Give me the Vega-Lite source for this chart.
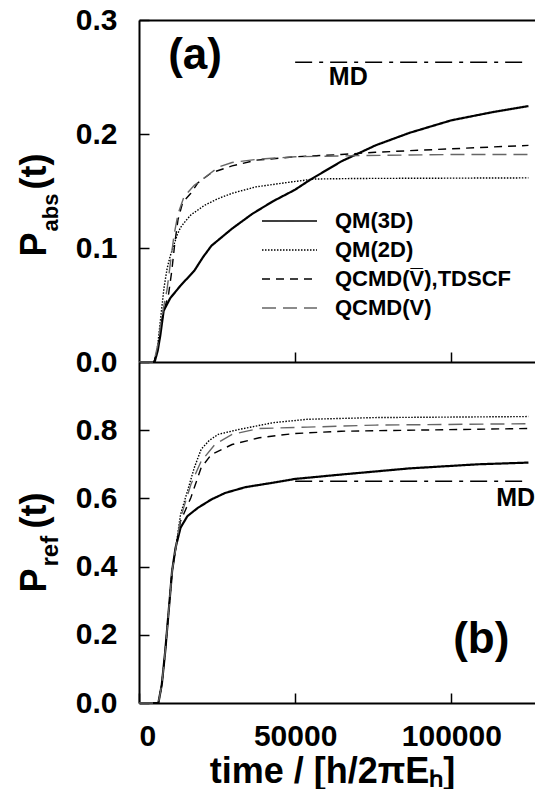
{
  "$schema": "https://vega.github.io/schema/vega-lite/v6.json",
  "padding": {"left": 16, "top": 5, "right": 0, "bottom": 0},
  "bounds": "flush",
  "spacing": 0,
  "datasets": {
    "top": [
      {"series": "QM(3D)", "t": 0, "p": 0}, {"series": "QM(3D)", "t": 5000, "p": 0}, {"series": "QM(3D)", "t": 6000, "p": 0.01}, {"series": "QM(3D)", "t": 6800, "p": 0.023}, {"series": "QM(3D)", "t": 7900, "p": 0.045}, {"series": "QM(3D)", "t": 10000, "p": 0.056}, {"series": "QM(3D)", "t": 13300, "p": 0.067}, {"series": "QM(3D)", "t": 17700, "p": 0.08}, {"series": "QM(3D)", "t": 20500, "p": 0.092}, {"series": "QM(3D)", "t": 23200, "p": 0.102}, {"series": "QM(3D)", "t": 29800, "p": 0.117}, {"series": "QM(3D)", "t": 36300, "p": 0.13}, {"series": "QM(3D)", "t": 42900, "p": 0.141}, {"series": "QM(3D)", "t": 49900, "p": 0.151}, {"series": "QM(3D)", "t": 54900, "p": 0.16}, {"series": "QM(3D)", "t": 64800, "p": 0.176}, {"series": "QM(3D)", "t": 75700, "p": 0.19}, {"series": "QM(3D)", "t": 86600, "p": 0.201}, {"series": "QM(3D)", "t": 100000, "p": 0.212}, {"series": "QM(3D)", "t": 112900, "p": 0.219}, {"series": "QM(3D)", "t": 124700, "p": 0.2245},
      {"series": "QM(2D)", "t": 0, "p": 0}, {"series": "QM(2D)", "t": 4800, "p": 0}, {"series": "QM(2D)", "t": 5800, "p": 0.01}, {"series": "QM(2D)", "t": 7000, "p": 0.04}, {"series": "QM(2D)", "t": 8000, "p": 0.065}, {"series": "QM(2D)", "t": 9000, "p": 0.082}, {"series": "QM(2D)", "t": 10000, "p": 0.093}, {"series": "QM(2D)", "t": 11200, "p": 0.103}, {"series": "QM(2D)", "t": 12300, "p": 0.112}, {"series": "QM(2D)", "t": 13300, "p": 0.118}, {"series": "QM(2D)", "t": 15000, "p": 0.124}, {"series": "QM(2D)", "t": 16600, "p": 0.129}, {"series": "QM(2D)", "t": 21000, "p": 0.1375}, {"series": "QM(2D)", "t": 25400, "p": 0.1434}, {"series": "QM(2D)", "t": 29800, "p": 0.148}, {"series": "QM(2D)", "t": 37400, "p": 0.1536}, {"series": "QM(2D)", "t": 46200, "p": 0.157}, {"series": "QM(2D)", "t": 56000, "p": 0.1605}, {"series": "QM(2D)", "t": 70000, "p": 0.161}, {"series": "QM(2D)", "t": 124700, "p": 0.1615},
      {"series": "QCMD(V̅),TDSCF", "t": 0, "p": 0}, {"series": "QCMD(V̅),TDSCF", "t": 4800, "p": 0}, {"series": "QCMD(V̅),TDSCF", "t": 6000, "p": 0.012}, {"series": "QCMD(V̅),TDSCF", "t": 6800, "p": 0.029}, {"series": "QCMD(V̅),TDSCF", "t": 8000, "p": 0.045}, {"series": "QCMD(V̅),TDSCF", "t": 9500, "p": 0.06}, {"series": "QCMD(V̅),TDSCF", "t": 10500, "p": 0.08}, {"series": "QCMD(V̅),TDSCF", "t": 11500, "p": 0.105}, {"series": "QCMD(V̅),TDSCF", "t": 12500, "p": 0.125}, {"series": "QCMD(V̅),TDSCF", "t": 14000, "p": 0.14}, {"series": "QCMD(V̅),TDSCF", "t": 16600, "p": 0.148}, {"series": "QCMD(V̅),TDSCF", "t": 18800, "p": 0.157}, {"series": "QCMD(V̅),TDSCF", "t": 23200, "p": 0.166}, {"series": "QCMD(V̅),TDSCF", "t": 29800, "p": 0.172}, {"series": "QCMD(V̅),TDSCF", "t": 37400, "p": 0.177}, {"series": "QCMD(V̅),TDSCF", "t": 49900, "p": 0.18}, {"series": "QCMD(V̅),TDSCF", "t": 64800, "p": 0.182}, {"series": "QCMD(V̅),TDSCF", "t": 75700, "p": 0.184}, {"series": "QCMD(V̅),TDSCF", "t": 100000, "p": 0.187}, {"series": "QCMD(V̅),TDSCF", "t": 124700, "p": 0.19},
      {"series": "QCMD(V)", "t": 0, "p": 0}, {"series": "QCMD(V)", "t": 4800, "p": 0}, {"series": "QCMD(V)", "t": 6000, "p": 0.015}, {"series": "QCMD(V)", "t": 7000, "p": 0.035}, {"series": "QCMD(V)", "t": 9000, "p": 0.064}, {"series": "QCMD(V)", "t": 10200, "p": 0.09}, {"series": "QCMD(V)", "t": 11200, "p": 0.111}, {"series": "QCMD(V)", "t": 12500, "p": 0.13}, {"series": "QCMD(V)", "t": 14400, "p": 0.145}, {"series": "QCMD(V)", "t": 17700, "p": 0.155}, {"series": "QCMD(V)", "t": 22100, "p": 0.164}, {"series": "QCMD(V)", "t": 25500, "p": 0.171}, {"series": "QCMD(V)", "t": 29800, "p": 0.175}, {"series": "QCMD(V)", "t": 38500, "p": 0.178}, {"series": "QCMD(V)", "t": 50000, "p": 0.18}, {"series": "QCMD(V)", "t": 70000, "p": 0.181}, {"series": "QCMD(V)", "t": 100000, "p": 0.182}, {"series": "QCMD(V)", "t": 124700, "p": 0.182}
    ],
    "bottom": [
      {"series": "QM(3D)", "t": 0, "p": 0}, {"series": "QM(3D)", "t": 6200, "p": 0}, {"series": "QM(3D)", "t": 7300, "p": 0.054}, {"series": "QM(3D)", "t": 8400, "p": 0.152}, {"series": "QM(3D)", "t": 9500, "p": 0.269}, {"series": "QM(3D)", "t": 10600, "p": 0.387}, {"series": "QM(3D)", "t": 11700, "p": 0.455}, {"series": "QM(3D)", "t": 13300, "p": 0.514}, {"series": "QM(3D)", "t": 15500, "p": 0.548}, {"series": "QM(3D)", "t": 18800, "p": 0.572}, {"series": "QM(3D)", "t": 23200, "p": 0.597}, {"series": "QM(3D)", "t": 27600, "p": 0.616}, {"series": "QM(3D)", "t": 34100, "p": 0.633}, {"series": "QM(3D)", "t": 42900, "p": 0.646}, {"series": "QM(3D)", "t": 49900, "p": 0.657}, {"series": "QM(3D)", "t": 64800, "p": 0.67}, {"series": "QM(3D)", "t": 86600, "p": 0.688}, {"series": "QM(3D)", "t": 108500, "p": 0.7}, {"series": "QM(3D)", "t": 124700, "p": 0.705},
      {"series": "QM(2D)", "t": 0, "p": 0}, {"series": "QM(2D)", "t": 6200, "p": 0}, {"series": "QM(2D)", "t": 7300, "p": 0.054}, {"series": "QM(2D)", "t": 8400, "p": 0.152}, {"series": "QM(2D)", "t": 9500, "p": 0.269}, {"series": "QM(2D)", "t": 10600, "p": 0.387}, {"series": "QM(2D)", "t": 11700, "p": 0.45}, {"series": "QM(2D)", "t": 13300, "p": 0.553}, {"series": "QM(2D)", "t": 15500, "p": 0.621}, {"series": "QM(2D)", "t": 17700, "p": 0.69}, {"series": "QM(2D)", "t": 19900, "p": 0.744}, {"series": "QM(2D)", "t": 22500, "p": 0.77}, {"series": "QM(2D)", "t": 25400, "p": 0.788}, {"series": "QM(2D)", "t": 31900, "p": 0.802}, {"series": "QM(2D)", "t": 42900, "p": 0.822}, {"series": "QM(2D)", "t": 53900, "p": 0.832}, {"series": "QM(2D)", "t": 75700, "p": 0.837}, {"series": "QM(2D)", "t": 124700, "p": 0.84},
      {"series": "QCMD(V̅),TDSCF", "t": 0, "p": 0}, {"series": "QCMD(V̅),TDSCF", "t": 6200, "p": 0}, {"series": "QCMD(V̅),TDSCF", "t": 7300, "p": 0.054}, {"series": "QCMD(V̅),TDSCF", "t": 8400, "p": 0.152}, {"series": "QCMD(V̅),TDSCF", "t": 9500, "p": 0.269}, {"series": "QCMD(V̅),TDSCF", "t": 10600, "p": 0.387}, {"series": "QCMD(V̅),TDSCF", "t": 11700, "p": 0.45}, {"series": "QCMD(V̅),TDSCF", "t": 13300, "p": 0.533}, {"series": "QCMD(V̅),TDSCF", "t": 16600, "p": 0.602}, {"series": "QCMD(V̅),TDSCF", "t": 19900, "p": 0.69}, {"series": "QCMD(V̅),TDSCF", "t": 23200, "p": 0.729}, {"series": "QCMD(V̅),TDSCF", "t": 29800, "p": 0.758}, {"series": "QCMD(V̅),TDSCF", "t": 38500, "p": 0.778}, {"series": "QCMD(V̅),TDSCF", "t": 49400, "p": 0.79}, {"series": "QCMD(V̅),TDSCF", "t": 64800, "p": 0.797}, {"series": "QCMD(V̅),TDSCF", "t": 124700, "p": 0.805},
      {"series": "QCMD(V)", "t": 0, "p": 0}, {"series": "QCMD(V)", "t": 6200, "p": 0}, {"series": "QCMD(V)", "t": 7300, "p": 0.054}, {"series": "QCMD(V)", "t": 8400, "p": 0.152}, {"series": "QCMD(V)", "t": 9500, "p": 0.269}, {"series": "QCMD(V)", "t": 10600, "p": 0.387}, {"series": "QCMD(V)", "t": 11700, "p": 0.45}, {"series": "QCMD(V)", "t": 13300, "p": 0.543}, {"series": "QCMD(V)", "t": 16600, "p": 0.641}, {"series": "QCMD(V)", "t": 19900, "p": 0.709}, {"series": "QCMD(V)", "t": 24300, "p": 0.758}, {"series": "QCMD(V)", "t": 29800, "p": 0.788}, {"series": "QCMD(V)", "t": 38500, "p": 0.805}, {"series": "QCMD(V)", "t": 53900, "p": 0.809}, {"series": "QCMD(V)", "t": 75700, "p": 0.815}, {"series": "QCMD(V)", "t": 124700, "p": 0.819}
    ],
    "mdtop": [{"t": 50000, "t2": 122800, "p": 0.263}],
    "mdbot": [{"t": 50000, "t2": 123000, "p": 0.65}],
    "lbltop": [{"t": 17950, "p": 0.268, "label": "(a)"}, {"t": 67000, "p": 0.25, "label": "MD"}],
    "lblbot": [{"t": 109600, "p": 0.185, "label": "(b)"}, {"t": 114400, "p": 0.601, "label": "MD"}]
  },
  "vconcat": [
    {
      "width": 396,
      "height": 342,
      "layer": [
        {
          "data": {"name": "top"},
          "transform": [{"filter": "datum.series == 'QM(3D)'"}],
          "mark": {"type": "line", "strokeWidth": 2.2},
          "encoding": {
            "x": {"field": "t", "type": "quantitative", "scale": {"domain": [0, 126800], "nice": false},
                  "axis": {"values": [50000, 100000], "labels": false, "title": null}},
            "y": {"field": "p", "type": "quantitative", "scale": {"domain": [0, 0.3], "nice": false},
                  "axis": {"orient": "left", "values": [0, 0.1, 0.2, 0.3], "format": ".1f", "labelPadding": 32,
                           "title": "P", "titleFontSize": 36, "titleAngle": -90, "titleX": -94, "titleY": 236, "titleAlign": "left", "titleBaseline": "alphabetic"}},
            "strokeDash": {"field": "series", "type": "nominal",
                           "scale": {"domain": ["QM(3D)", "QM(2D)", "QCMD(V̅),TDSCF", "QCMD(V)"], "range": [[1, 0], [1.5, 1.5], [8, 6], [14, 7]]},
                           "legend": {"orient": "none", "legendX": 122, "legendY": 190, "title": null}},
            "color": {"field": "series", "type": "nominal",
                      "scale": {"domain": ["QM(3D)", "QM(2D)", "QCMD(V̅),TDSCF", "QCMD(V)"], "range": ["black", "black", "black", "#666666"]},
                      "legend": {"orient": "none", "legendX": 122, "legendY": 190, "title": null}}
          }
        },
        {
          "data": {"name": "top"},
          "transform": [{"filter": "datum.series != 'QM(3D)'"}],
          "mark": {"type": "line", "strokeWidth": 1.4},
          "encoding": {
            "x": {"field": "t", "type": "quantitative", "axis": null},
            "y": {"field": "p", "type": "quantitative", "axis": null},
            "strokeDash": {"field": "series", "type": "nominal",
                           "legend": {"orient": "none", "legendX": 122, "legendY": 190, "title": null}},
            "color": {"field": "series", "type": "nominal",
                      "legend": {"orient": "none", "legendX": 122, "legendY": 190, "title": null}}
          }
        },
        {
          "data": {"name": "mdtop"},
          "mark": {"type": "rule", "strokeDash": [17, 7, 4, 7], "strokeWidth": 1.5, "color": "black"},
          "encoding": {
            "x": {"field": "t", "type": "quantitative", "axis": {"orient": "top", "labels": false, "ticks": false, "title": null}},
            "x2": {"field": "t2"},
            "y": {"field": "p", "type": "quantitative",
                  "axis": {"orient": "left", "labels": false, "ticks": false, "domain": false,
                           "title": "abs", "titleFontSize": 22, "titleAngle": -90, "titleX": -82, "titleY": 211, "titleAlign": "left", "titleBaseline": "alphabetic"}}
          }
        },
        {
          "data": {"name": "lbltop"},
          "transform": [{"filter": "datum.label == '(a)'"}],
          "mark": {"type": "text", "fontSize": 44, "fontWeight": "bold", "align": "center", "baseline": "middle", "color": "black"},
          "encoding": {
            "x": {"field": "t", "type": "quantitative", "axis": null},
            "y": {"field": "p", "type": "quantitative",
                  "axis": {"orient": "left", "labels": false, "ticks": false, "domain": false,
                           "title": "(t)", "titleFontSize": 36, "titleAngle": -90, "titleX": -94, "titleY": 169, "titleAlign": "left", "titleBaseline": "alphabetic"}},
            "text": {"field": "label"}
          }
        },
        {
          "data": {"name": "lbltop"},
          "transform": [{"filter": "datum.label == 'MD'"}],
          "mark": {"type": "text", "fontSize": 25, "fontWeight": "bold", "align": "center", "baseline": "middle", "color": "black"},
          "encoding": {
            "x": {"field": "t", "type": "quantitative", "axis": null},
            "y": {"field": "p", "type": "quantitative", "axis": null},
            "text": {"field": "label"}
          }
        }
      ],
      "resolve": {"axis": {"y": "independent", "x": "independent"}}
    },
    {
      "width": 396,
      "height": 341,
      "layer": [
        {
          "data": {"name": "bottom"},
          "transform": [{"filter": "datum.series == 'QM(3D)'"}],
          "mark": {"type": "line", "strokeWidth": 2.2},
          "encoding": {
            "x": {"field": "t", "type": "quantitative", "scale": {"domain": [0, 126800], "nice": false},
                  "axis": {"values": [0, 50000, 100000], "format": "d", "labelPadding": 28, "title": "time / [h/2πEₕ]", "titleFontSize": 36, "titlePadding": 3, "titleX": 193, "titleAlign": "center"}},
            "y": {"field": "p", "type": "quantitative", "scale": {"domain": [0, 1], "nice": false},
                  "axis": {"orient": "left", "values": [0, 0.2, 0.4, 0.6, 0.8], "format": ".1f", "labelPadding": 32,
                           "title": "P", "titleFontSize": 36, "titleAngle": -90, "titleX": -94, "titleY": 230, "titleAlign": "left", "titleBaseline": "alphabetic"}},
            "strokeDash": {"field": "series", "type": "nominal",
                           "scale": {"domain": ["QM(3D)", "QM(2D)", "QCMD(V̅),TDSCF", "QCMD(V)"], "range": [[1, 0], [1.5, 1.5], [8, 6], [14, 7]]},
                           "legend": null},
            "color": {"field": "series", "type": "nominal",
                      "scale": {"domain": ["QM(3D)", "QM(2D)", "QCMD(V̅),TDSCF", "QCMD(V)"], "range": ["black", "black", "black", "#666666"]},
                      "legend": null}
          }
        },
        {
          "data": {"name": "bottom"},
          "transform": [{"filter": "datum.series != 'QM(3D)'"}],
          "mark": {"type": "line", "strokeWidth": 1.4},
          "encoding": {
            "x": {"field": "t", "type": "quantitative", "axis": {"values": [0, 50000, 100000], "format": "d", "labelPadding": 28, "title": "time / [h/2πEₕ]", "titleFontSize": 36, "titlePadding": 3, "titleX": 193, "titleAlign": "center"}},
            "y": {"field": "p", "type": "quantitative", "axis": null},
            "strokeDash": {"field": "series", "type": "nominal", "legend": null},
            "color": {"field": "series", "type": "nominal", "legend": null}
          }
        },
        {
          "data": {"name": "mdbot"},
          "mark": {"type": "rule", "strokeDash": [17, 7, 4, 7], "strokeWidth": 1.5, "color": "black"},
          "encoding": {
            "x": {"field": "t", "type": "quantitative", "axis": {"values": [0, 50000, 100000], "format": "d", "labelPadding": 28, "title": "time / [h/2πEₕ]", "titleFontSize": 36, "titlePadding": 3, "titleX": 193, "titleAlign": "center"}},
            "x2": {"field": "t2"},
            "y": {"field": "p", "type": "quantitative",
                  "axis": {"orient": "left", "labels": false, "ticks": false, "domain": false,
                           "title": "ref", "titleFontSize": 24, "titleAngle": -90, "titleX": -82, "titleY": 204, "titleAlign": "left", "titleBaseline": "alphabetic"}}
          }
        },
        {
          "data": {"name": "lblbot"},
          "transform": [{"filter": "datum.label == '(b)'"}],
          "mark": {"type": "text", "fontSize": 44, "fontWeight": "bold", "align": "center", "baseline": "middle", "color": "black"},
          "encoding": {
            "x": {"field": "t", "type": "quantitative", "axis": {"values": [0, 50000, 100000], "format": "d", "labelPadding": 28, "title": "time / [h/2πEₕ]", "titleFontSize": 36, "titlePadding": 3, "titleX": 193, "titleAlign": "center"}},
            "y": {"field": "p", "type": "quantitative",
                  "axis": {"orient": "left", "labels": false, "ticks": false, "domain": false,
                           "title": "(t)", "titleFontSize": 36, "titleAngle": -90, "titleX": -94, "titleY": 166, "titleAlign": "left", "titleBaseline": "alphabetic"}},
            "text": {"field": "label"}
          }
        },
        {
          "data": {"name": "lblbot"},
          "transform": [{"filter": "datum.label == 'MD'"}],
          "mark": {"type": "text", "fontSize": 25, "fontWeight": "bold", "align": "left", "baseline": "middle", "color": "black"},
          "encoding": {
            "x": {"field": "t", "type": "quantitative", "axis": {"values": [0, 50000, 100000], "format": "d", "labelPadding": 28, "title": "time / [h/2πEₕ]", "titleFontSize": 36, "titlePadding": 3, "titleX": 193, "titleAlign": "center"}},
            "y": {"field": "p", "type": "quantitative", "axis": null},
            "text": {"field": "label"}
          }
        }
      ],
      "resolve": {"axis": {"y": "independent"}}
    }
  ],
  "resolve": {
    "scale": {"y": "independent", "color": "independent", "strokeDash": "independent"},
    "legend": {"color": "independent", "strokeDash": "independent"}
  },
  "config": {
    "font": "Liberation Sans",
    "view": {"stroke": null},
    "axis": {
      "domainColor": "black", "domainWidth": 2, "tickColor": "black", "tickWidth": 1.5, "tickSize": -10,
      "labelFont": "Liberation Sans", "labelFontWeight": "bold", "labelFontSize": 30, "labelColor": "black",
      "grid": false, "titleFont": "Liberation Sans", "titleFontWeight": "bold", "titleColor": "black"
    },
    "legend": {
      "symbolType": "stroke", "symbolSize": 3025, "symbolStrokeWidth": 1.5, "clipHeight": 22,
      "labelFont": "Liberation Sans", "labelFontSize": 22, "labelFontWeight": "bold", "labelColor": "black",
      "rowPadding": 7, "labelOffset": 17, "padding": 0, "labelLimit": 400
    }
  }
}
